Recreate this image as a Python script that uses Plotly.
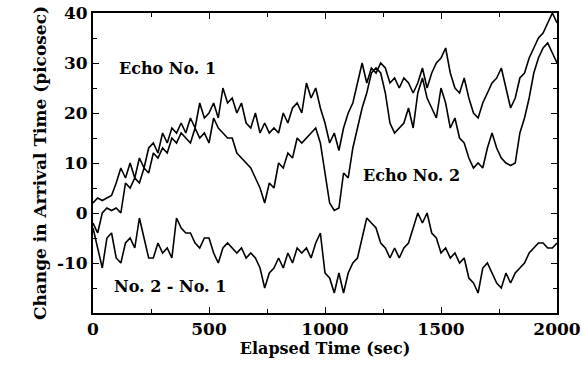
import plotly.graph_objects as go

time_sec = list(range(0, 2001, 20))

echo_no1 = [2, 3, 2.5, 3, 3.5, 6, 9, 7, 10, 7, 11, 9, 13, 14, 12, 16, 14, 17, 16, 18,
            16, 19, 17, 22, 19, 20, 22, 19, 25, 22, 23, 20, 22, 18, 17, 20, 16, 18, 16, 17,
            16, 20, 18, 21, 22, 20, 26, 23, 25, 21, 18, 14, 16, 12.5, 17, 20, 22, 26, 30, 26,
            29, 28, 30, 29, 26, 27, 25, 27, 26, 24, 26, 29, 25, 28, 30, 31, 33, 28, 25, 24,
            27, 23, 20, 19, 22, 24, 26, 27, 29, 25, 21, 23, 27, 28, 31, 33, 35, 36, 38, 40, 38]

echo_no2 = [-2, -4, 0, 1, 0.5, 1, 0, 6, 5, 7, 6, 9, 8, 12, 11, 13, 12, 15, 14, 16,
            15, 14, 17, 15, 16, 14, 19, 17, 16, 15, 15, 12, 11, 10, 9, 7, 5, 2, 6, 5,
            10, 9, 12, 11, 15, 14, 15, 16, 17, 14, 8, 2, 0.5, 1, 8, 7, 13, 17, 21, 24,
            28, 29, 28, 24, 18, 16, 17, 18, 21, 17, 24, 27, 23, 21, 19, 25, 22, 17, 19, 15,
            14, 11, 9, 10, 9, 13, 16, 13, 11, 10, 9.5, 10, 16, 19, 23, 28, 31, 33, 34, 32, 30]

diff_2_1 = [-3, -7, -11, -5, -4, -9, -10, -6, -5, -7, -1, -5, -9, -9, -6, -8, -7, -9, -1, -3,
            -4, -4, -6, -7, -5, -5, -8, -10, -7, -6, -7, -8, -7, -9, -8, -9, -11, -15, -12, -11,
            -9, -11, -8, -10, -7, -8, -7, -9, -6, -4, -12, -13, -16, -12, -16, -12, -10, -9, -5, -1,
            -2, -3, -6, -7, -9, -7, -9, -7, -6, -3, 0, -2, 0, -4, -5, -8, -7, -9, -8, -10,
            -9, -13, -14, -16, -11, -10, -12, -14, -15, -12, -14, -12, -11, -10, -8, -7, -6, -6, -7, -7, -6]

x_ticks = [0, 500, 1000, 1500, 2000]
y_ticks = [-10, 0, 10, 20, 30, 40]

FONT = "DejaVu Serif"
fig = go.Figure()
for series in (echo_no1, echo_no2, diff_2_1):
    fig.add_trace(go.Scatter(x=time_sec, y=series, mode="lines",
                             line=dict(color="black", width=1.6), showlegend=False))

labels = [("Echo No. 1", 319, 29), ("Echo No. 2", 1371, 7.6), ("No. 2 - No. 1", 332, -14.6)]
for text, x, y in labels:
    fig.add_annotation(x=x, y=y, text=text, showarrow=False,
                       font=dict(family=FONT, size=16, color="black", weight="bold"))

axis_common = dict(showgrid=False, zeroline=False, showline=True, linecolor="black", linewidth=2,
                   mirror="ticks", ticks="inside", ticklen=6, tickwidth=1.2, tickcolor="black",
                   automargin=False,
                   tickfont=dict(family=FONT, size=17, color="black", weight="bold"))
fig.update_xaxes(range=[0, 2000], tickvals=x_ticks, ticktext=[str(v) for v in x_ticks],
                 minor=dict(dtick=250, ticks="inside", ticklen=4, tickcolor="black", tickwidth=1),
                 title=dict(text="Elapsed Time (sec)", standoff=4,
                            font=dict(family=FONT, size=16, color="black", weight="bold")),
                 **axis_common)
fig.update_yaxes(range=[-20, 40], tickvals=y_ticks, ticktext=[str(v) for v in y_ticks],
                 minor=dict(dtick=5, ticks="inside", ticklen=4, tickcolor="black", tickwidth=1),
                 title=dict(text="Change in Arrival Time (picosec)", standoff=6,
                            font=dict(family=FONT, size=17, color="black", weight="bold")),
                 **axis_common)
fig.update_layout(width=582, height=374, margin=dict(l=93, r=25, t=13, b=61),
                  paper_bgcolor="white", plot_bgcolor="white")
fig.write_html("out.html")
